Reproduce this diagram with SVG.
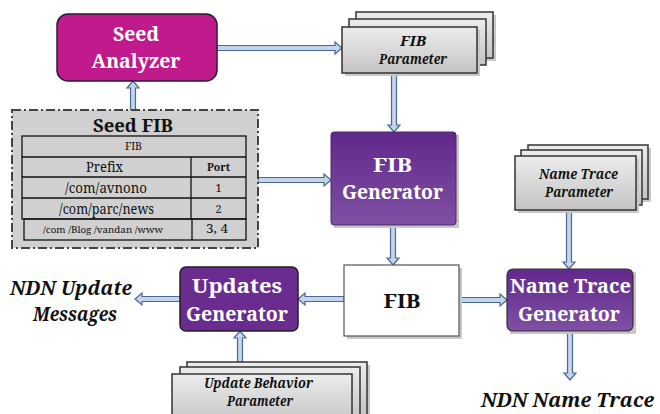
<svg xmlns="http://www.w3.org/2000/svg" width="660" height="414" viewBox="0 0 660 414">
<defs>
<linearGradient id="gPurple" x1="0" y1="0" x2="0" y2="1"><stop offset="0" stop-color="#62288c"/><stop offset="1" stop-color="#7f50a2"/></linearGradient>
<linearGradient id="gGray" x1="0" y1="0" x2="0" y2="1"><stop offset="0" stop-color="#ececec"/><stop offset="1" stop-color="#c4c4c4"/></linearGradient>
<style>
text{font-family:'Noto Serif','DejaVu Serif',serif}
.arrow{fill:#c3d5ec;stroke:#4a6890;stroke-width:1.2;stroke-linejoin:miter}
.shadow{fill:#c8c8c8}
.param{fill:url(#gGray);stroke:#333;stroke-width:1.5}
.ptxt{font-weight:bold;font-style:italic;font-size:13.5px;fill:#111;text-anchor:middle}
.wtxt{font-weight:bold;font-size:20.5px;fill:#fff;text-anchor:middle}
.btxt{font-weight:bold;font-style:italic;font-size:20.5px;fill:#111}
.tt{fill:#111;text-anchor:middle}
.tl{stroke:#111;stroke-width:1.3;fill:none}
</style>
</defs>

<g id="connectors">
<path class="arrow" d="M217,45.5 H335 V42 L342,48 L335,54 V50.5 H217 Z"/>
<path class="arrow" d="M130.5,110 V88 H127 L133,81 L139,88 H135.5 V110 Z"/>
<path class="arrow" d="M258,177.5 H324 V174 L331,180 L324,186 V182.5 H258 Z"/>
<path class="arrow" d="M391.5,73 V125 H388 L394,132 L400,125 H396.5 V73 Z"/>
<path class="arrow" d="M390.5,225 V258 H387 L393,265 L399,258 H395.5 V225 Z"/>
<path class="arrow" d="M566.5,210 V262 H563 L569,269 L575,262 H571.5 V210 Z"/>
<path class="arrow" d="M459,297.5 H500 V294 L507,300 L500,306 V302.5 H459 Z"/>
<path class="arrow" d="M344,296.5 H305 V293 L298,299 L305,305 V301.5 H344 Z"/>
<path class="arrow" d="M180,296.5 H142 V293 L135,299 L142,305 V301.5 H180 Z"/>
<path class="arrow" d="M237.5,362 V338 H234 L240,331 L246,338 H242.5 V362 Z"/>
<path class="arrow" d="M567.5,331 V373 H564 L570,380 L576,373 H572.5 V331 Z"/>
</g>

<g id="seed-analyzer">
<rect x="57" y="14" width="160" height="67" rx="11" fill="#c01a8c" stroke="#2a1a3a" stroke-width="1.5"/>
<text class="wtxt" x="136" y="41" textLength="46" lengthAdjust="spacingAndGlyphs">Seed</text>
<text class="wtxt" x="136" y="68" textLength="89" lengthAdjust="spacingAndGlyphs">Analyzer</text>
</g>

<g id="fib-parameter">
<rect class="shadow" x="359" y="15" width="137" height="46"/>
<rect class="param" x="356" y="12" width="137" height="46"/>
<rect class="param" x="349" y="19" width="137" height="46"/>
<rect class="shadow" x="345" y="30" width="135" height="46"/>
<rect class="param" x="342" y="27" width="135" height="46"/>
<text class="ptxt" x="413" y="45.5" textLength="26" lengthAdjust="spacingAndGlyphs">FIB</text>
<text class="ptxt" x="413" y="63.5" textLength="68" lengthAdjust="spacingAndGlyphs">Parameter</text>
</g>

<g id="seed-fib">
<rect x="12" y="110" width="246" height="138" fill="#d0d0d0" stroke="#444" stroke-width="2" stroke-dasharray="9,3,2,3"/>
<text class="tt" x="133" y="132" font-size="18" font-weight="bold" textLength="80" lengthAdjust="spacingAndGlyphs">Seed FIB</text>
<rect class="tl" x="22" y="136" width="224" height="83"/>
<line class="tl" x1="22" y1="157" x2="246" y2="157"/>
<line class="tl" x1="22" y1="177" x2="246" y2="177"/>
<line class="tl" x1="22" y1="198" x2="246" y2="198"/>
<line class="tl" x1="191" y1="157" x2="191" y2="219"/>
<rect class="tl" x="24" y="219" width="222" height="21"/>
<line class="tl" x1="192" y1="219" x2="192" y2="240"/>
<text class="tt" x="133.5" y="150" font-size="11" textLength="17" lengthAdjust="spacingAndGlyphs">FIB</text>
<text class="tt" x="104.5" y="172" font-size="14.5" textLength="37" lengthAdjust="spacingAndGlyphs">Prefix</text>
<text class="tt" x="218.5" y="171" font-size="11" font-weight="bold" textLength="23" lengthAdjust="spacingAndGlyphs">Port</text>
<text class="tt" x="106" y="193" font-size="14.5" textLength="82" lengthAdjust="spacingAndGlyphs">/com/avnono</text>
<text class="tt" x="218.5" y="192" font-size="11">1</text>
<text class="tt" x="106.5" y="214" font-size="14.5" textLength="95" lengthAdjust="spacingAndGlyphs">/com/parc/news</text>
<text class="tt" x="218.5" y="213" font-size="11">2</text>
<text class="tt" x="103" y="233" font-size="9" textLength="120" lengthAdjust="spacingAndGlyphs">/com /Blog /vandan  /www</text>
<text class="tt" x="217" y="233" font-size="12" textLength="22" lengthAdjust="spacingAndGlyphs">3, 4</text>
</g>

<g id="fib-generator">
<rect x="334" y="135" width="125" height="93" fill="#c8c8c8"/>
<rect x="331" y="132" width="125" height="93" rx="3" fill="url(#gPurple)" stroke="#4a2a66" stroke-width="1"/>
<text class="wtxt" x="392.5" y="172" textLength="39" lengthAdjust="spacingAndGlyphs">FIB</text>
<text class="wtxt" x="392.5" y="199" textLength="101" lengthAdjust="spacingAndGlyphs">Generator</text>
</g>

<g id="name-trace-parameter">
<rect class="shadow" x="531" y="148" width="120" height="54"/>
<rect class="param" x="528" y="145" width="120" height="54"/>
<rect class="param" x="521" y="150" width="121" height="55"/>
<rect class="shadow" x="518" y="159" width="121" height="54"/>
<rect class="param" x="515" y="156" width="121" height="54"/>
<text class="ptxt" x="578.5" y="179" textLength="79" lengthAdjust="spacingAndGlyphs">Name Trace</text>
<text class="ptxt" x="579" y="197" textLength="68" lengthAdjust="spacingAndGlyphs">Parameter</text>
</g>

<g id="fib">
<rect x="347" y="268" width="115" height="71" fill="#c8c8c8"/>
<rect x="344" y="265" width="115" height="71" fill="#fff" stroke="#555" stroke-width="1.2"/>
<text class="tt" x="402" y="308" font-size="20" font-weight="bold" textLength="37" lengthAdjust="spacingAndGlyphs">FIB</text>
</g>

<g id="name-trace-generator">
<rect x="510" y="272" width="126" height="62" fill="#c8c8c8"/>
<rect x="507" y="269" width="126" height="62" rx="6" fill="url(#gPurple)" stroke="#333" stroke-width="1.2"/>
<text class="wtxt" x="570.5" y="293" textLength="121" lengthAdjust="spacingAndGlyphs">Name Trace</text>
<text class="wtxt" x="569" y="321" textLength="102" lengthAdjust="spacingAndGlyphs">Generator</text>
</g>

<g id="updates-generator">
<rect x="180" y="267" width="118" height="64" rx="6" fill="#6a2c8f" stroke="#222" stroke-width="1.5"/>
<text class="wtxt" x="237" y="293" textLength="90" lengthAdjust="spacingAndGlyphs">Updates</text>
<text class="wtxt" x="237" y="321" textLength="102" lengthAdjust="spacingAndGlyphs">Generator</text>
</g>

<g id="update-behavior-parameter">
<rect class="shadow" x="190" y="365" width="180" height="54"/>
<rect class="param" x="187" y="362" width="180" height="54"/>
<rect class="param" x="180" y="367" width="180" height="54"/>
<rect class="shadow" x="175" y="377" width="178" height="50"/>
<rect class="param" x="172" y="374" width="180" height="50"/>
<text class="ptxt" x="258.5" y="388" textLength="109" lengthAdjust="spacingAndGlyphs">Update Behavior</text>
<text class="ptxt" x="260" y="406" textLength="66" lengthAdjust="spacingAndGlyphs">Parameter</text>
</g>

<g id="ndn-update-messages">
<text class="btxt" x="10" y="295" textLength="122" lengthAdjust="spacingAndGlyphs">NDN Update</text>
<text class="btxt" x="33" y="321" textLength="84" lengthAdjust="spacingAndGlyphs">Messages</text>
</g>

<g id="ndn-name-trace">
<text class="btxt" x="481" y="407" textLength="173" lengthAdjust="spacingAndGlyphs">NDN Name Trace</text>
</g>
</svg>
